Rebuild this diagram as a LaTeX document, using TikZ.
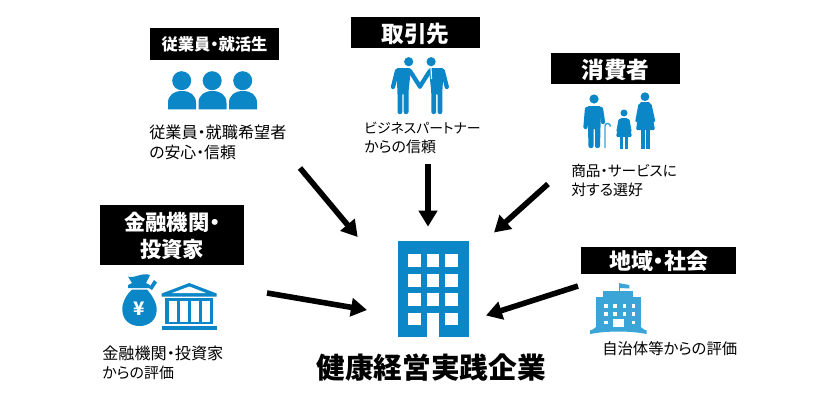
\documentclass[tikz,border=0pt]{standalone}
\usepackage{fontspec}
\setmainfont[RawFeature=+palt]{Noto Sans CJK JP}
\usetikzlibrary{arrows.meta}
\definecolor{myblue}{RGB}{11,134,198}
\definecolor{mylight}{RGB}{59,165,216}
\newcommand{\kanafont}{\fontsize{10.4}{14.6}\selectfont}
\tikzset{
    header/.style={fill=black, text=white, font=\bfseries, inner sep=0pt, align=center, text depth=0pt},
    desc/.style={anchor=west, align=left, inner sep=0pt, font=\fontsize{11.6}{14.6}\selectfont},
    flow/.style={line width=4.2pt, -{Triangle[length=12pt,width=13.5pt]}},
    limb/.style={line width=3.2pt, line cap=round, myblue}
}

\begin{document}
\begin{tikzpicture}[x=0.75pt, y=-0.75pt]
    \useasboundingbox (0,0) rectangle (825,400);
    % Headers
    \node[header, minimum width=96.75pt, minimum height=24pt, font=\bfseries\fontsize{12.2}{14}\selectfont] (staffhead) at (214.5,44) {従業員・就活生};
    \node[header, minimum width=96.75pt, minimum height=23.25pt, font=\bfseries\fontsize{17}{18}\selectfont] (partnerhead) at (415.5,32.5) {取引先};
    \node[header, minimum width=96.75pt, minimum height=23.25pt, font=\bfseries\fontsize{17}{18}\selectfont] (consumerhead) at (615.5,68.5) {消費者};
    \node[header, minimum width=108pt, minimum height=45pt, font=\bfseries\fontsize{16}{20}\selectfont] (financehead) at (172,235) {金融機関・\\投資家};
    \node[header, minimum width=116.25pt, minimum height=20.25pt, font=\bfseries\fontsize{16.5}{18}\selectfont] (regionhead) at (658.5,260.5) {地域・社会};
    % Descriptions
    \node[desc] (stafftext) at (149,142.5) {{\fontsize{12.1}{14.6}\selectfont 従業員・就職希望者}\\{\fontsize{11.9}{14.6}\selectfont の安心・信頼}};
    \node[desc] (partnertext) at (364,138) {{\kanafont ビジネスパートナー}\\{\fontsize{11.2}{14.6}\selectfont からの信頼}};
    \node[desc] (consumertext) at (571,180.5) {{\fontsize{11}{14.6}\selectfont 商品・サービスに}\\{\fontsize{11.2}{14.6}\selectfont 対する選好}};
    \node[desc] (financetext) at (102,363) {{\fontsize{12.1}{14.6}\selectfont 金融機関・投資家}\\{\fontsize{11.2}{14.6}\selectfont からの評価}};
    \node[desc] (regiontext) at (602,349) {{\fontsize{11.5}{14.6}\selectfont 自治体等からの評価}};
    \node[inner sep=0pt, font=\bfseries\fontsize{21.5}{24}\selectfont] (company) at (431,368) {健康経営実践企業};
    % Staff icon
    \foreach \px in {0,30.5,61} {
        \fill[myblue] ({181.7+\px},80.7) circle (9.5);
        \fill[myblue] ({168+\px},109.3) -- ({168+\px},103) .. controls ({168+\px},95) and ({174+\px},91) .. ({182+\px},91) .. controls ({190+\px},91) and ({196+\px},95) .. ({196+\px},103) -- ({196+\px},109.3) -- cycle;
    }
    % Partner icon
    \foreach \sx/\tx in {1/0,-1/-839.8} {
        \begin{scope}[xscale=\sx, xshift=\tx*0.75pt]
            \fill[myblue] (408.7,61.7) circle (4.6);
            \fill[myblue, rounded corners=1.5pt] (396,68) -- (411,68) -- (408.5,92) -- (408.5,114) -- (403.7,114) -- (403.7,93) -- (402.3,93) -- (402.3,114) -- (397.5,114) -- (397.5,92) -- cycle;
            \draw[limb] (397,71) -- (393,87);
            \draw[limb] (410,71) -- (419.9,86.5);
        \end{scope}
    }
    \draw[white, line width=0.9pt] (431,68) -- (431.5,79);
    % Consumer icon
    \fill[myblue] (594,99) circle (4.6);
    \fill[myblue, rounded corners=1.5pt] (587,106) -- (601,106) -- (600.5,127) -- (600,148) -- (595,148) -- (595,128) -- (593.5,128) -- (593.5,148) -- (588.5,148) -- (588,127) -- cycle;
    \draw[limb] (587,109) -- (585.5,127);
    \draw[limb] (601,109) -- (603,122);
    \draw[mylight, line width=1.1pt] (605,148) -- (605,126) .. controls (605,122.5) and (610.5,122.5) .. (610.5,126.5);
    \fill[myblue] (624,113) circle (3.5);
    \fill[myblue, rounded corners=1pt] (620,118) -- (628,118) -- (632,137) -- (616,137) -- cycle;
    \fill[myblue] (620,136) rectangle (623,149);
    \fill[myblue] (625,136) rectangle (628,149);
    \draw[myblue, line width=1.6pt, line cap=round] (619.5,120) -- (617.5,131);
    \draw[myblue, line width=1.6pt, line cap=round] (628.5,120) -- (630.5,131);
    \fill[myblue] (645,96.7) circle (4.4);
    \fill[myblue, rounded corners=1pt] (640,102) -- (650,102) -- (655,130) -- (636,130) -- cycle;
    \fill[myblue] (640.5,129) rectangle (644.5,149);
    \fill[myblue] (646,129) rectangle (650,149);
    \draw[myblue, line width=1.8pt, line cap=round] (639.5,105) -- (636.5,121);
    \draw[myblue, line width=1.8pt, line cap=round] (650.5,105) -- (654,121);
    % Money bag
    \fill[myblue] (132,289.5) .. controls (126,295) and (122,303) .. (122.3,310) .. controls (122.5,320) and (130,326) .. (139.5,326) .. controls (149,326) and (156.5,320) .. (156.7,310) .. controls (157,303) and (152,295) .. (147,289.5) -- cycle;
    \fill[myblue] (128,276.5) .. controls (134,279) and (142,272) .. (150,275) -- (146,283) -- (150,285) -- (151,288) -- (128,288) -- (128,285) -- (132,283) -- cycle;
    \fill[myblue] (149,288) -- (154,280) -- (157,282.5) -- (152,290) -- cycle;
    \node[inner sep=0pt, text=white, font=\bfseries\fontsize{14}{16}\selectfont] (yen) at (139.5,309) {¥};
    % Bank
    \fill[myblue] (189.3,283) -- (216.7,293.5) -- (216.7,296.5) -- (161.7,296.5) -- (161.7,293.5) -- cycle;
    \fill[white] (189.3,286.5) -- (206,293) -- (172,293) -- cycle;
    \fill[myblue] (165,298) rectangle (213,301);
    \fill[myblue] (165,321.5) rectangle (213,324);
    \fill[myblue] (161.7,325.5) rectangle (216.7,329.5);
    \foreach \cx in {165,176.5,187.5,198.5,209.5} {
        \fill[myblue] (\cx,300) rectangle ({\cx+3.5},323);
    }
    % Company building
    \fill[myblue] (397.7,240.7) rectangle (468.7,337.3);
    \foreach \wx in {408.3,426.7,445} {
        \foreach \wy in {254.3,274,293.3} {
            \fill[white] (\wx,\wy) rectangle ({\wx+12.7},{\wy+12.7});
        }
    }
    \fill[white] (408.3,312.7) rectangle (421,325);
    \fill[white] (445,312.7) rectangle (457.7,325);
    \fill[white] (426.7,312.7) rectangle (439.3,337.3);
    % Town hall
    \draw[mylight, line width=0.8pt] (619.3,283) -- (619.3,292);
    \fill[mylight] (620,283.3) -- (629.3,285) -- (629.3,288.5) -- (620,288) -- cycle;
    \fill[mylight] (603,291) rectangle (633,297);
    \fill[mylight] (596,296.7) rectangle (640.7,329);
    \fill[mylight] (596,327) .. controls (594,329) and (592,330) .. (590,330.5) -- (590,334) -- (596,333) .. controls (610,331) and (627,331) .. (640.7,333) -- (646.7,334) -- (646.7,330.5) .. controls (644.7,330) and (642.7,329) .. (640.7,327) -- cycle;
    \foreach \wx in {604.3,613.3,622.7,631.7} {
        \foreach \wy in {304,312.3} {
            \fill[white] (\wx,\wy) rectangle ({\wx+3.5},{\wy+3.5});
        }
    }
    \fill[white] (604.3,320.7) rectangle (607.8,324.2);
    \fill[white] (631.7,320.7) rectangle (635.2,324.2);
    \fill[white] (612.7,319) rectangle (624,327.3);
    % Arrows
    \coordinate (staffout) at (300,168);
    \coordinate (staffin) at (357.7,237);
    \coordinate (partnerout) at (428,164);
    \coordinate (partnerin) at (428,226.7);
    \coordinate (consumerout) at (548,184);
    \coordinate (consumerin) at (494,232.5);
    \coordinate (financeout) at (267,293);
    \coordinate (financein) at (367,310);
    \coordinate (regionout) at (578,286);
    \coordinate (regionin) at (486,315.5);
    \draw[flow] (staffout) -- (staffin);
    \draw[flow] (partnerout) -- (partnerin);
    \draw[flow] (consumerout) -- (consumerin);
    \draw[flow] (financeout) -- (financein);
    \draw[flow] (regionout) -- (regionin);
\end{tikzpicture}
\end{document}
